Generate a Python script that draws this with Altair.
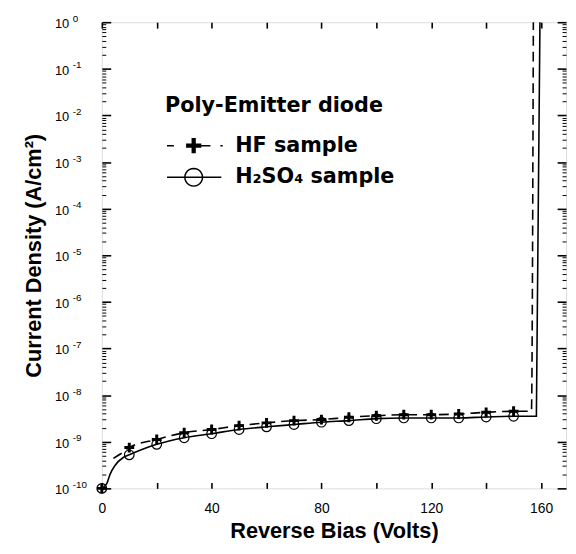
import math
import altair as alt
import pandas as pd

HF = "HF sample"
H2 = "H\u2082SO\u2084 sample"

x_marks = [0, 10, 20, 30, 40, 50, 60, 70, 80, 90, 100, 110, 120, 130, 140, 150]
hf_marks = [1.0e-10, 7.5e-10, 1.12e-9, 1.56e-9, 1.83e-9, 2.22e-9, 2.54e-9, 2.84e-9,
            2.99e-9, 3.35e-9, 3.62e-9, 3.81e-9, 3.81e-9, 3.94e-9, 4.28e-9, 4.5e-9]
h2_marks = [1.0e-10, 5.25e-10, 8.8e-10, 1.22e-9, 1.49e-9, 1.83e-9, 2.09e-9, 2.34e-9,
            2.63e-9, 2.84e-9, 3.13e-9, 3.24e-9, 3.24e-9, 3.24e-9, 3.4e-9, 3.52e-9]

hf_curve_x = [4.2, 6.6, 10, 20, 30, 40, 50, 60, 70, 80, 90, 100, 110, 120, 130, 140, 150,
              154, 156.5, 157.2]
hf_curve_y = [4.4e-10, 5.4e-10, 7.5e-10, 1.12e-9, 1.56e-9, 1.83e-9, 2.22e-9, 2.54e-9,
              2.84e-9, 2.99e-9, 3.35e-9, 3.62e-9, 3.81e-9, 3.81e-9, 3.94e-9, 4.28e-9,
              4.5e-9, 4.5e-9, 4.5e-9, 1.0]
h2_curve_x = [0, 1.8, 3.0, 4.8, 7.8, 10, 20, 30, 40, 50, 60, 70, 80, 90, 100, 110, 120,
              130, 140, 150, 158.3, 159.6]
h2_curve_y = [1.0e-10, 1.26e-10, 2.0e-10, 3.1e-10, 4.6e-10, 5.25e-10, 8.8e-10, 1.22e-9,
              1.49e-9, 1.83e-9, 2.09e-9, 2.34e-9, 2.63e-9, 2.84e-9, 3.13e-9, 3.24e-9,
              3.24e-9, 3.24e-9, 3.4e-9, 3.52e-9, 3.52e-9, 1.0]

x_labels = [0, 40, 80, 120, 160]
x_ticks = [0, 20, 40, 60, 80, 100, 120, 140, 160]
decades = [10.0 ** e for e in range(-10, 1)]
minors = [m * 10.0 ** e for e in range(-10, 0) for m in range(2, 10)]

marks = pd.DataFrame(
    [{"series": HF, "v": x, "j": y} for x, y in zip(x_marks, hf_marks)]
    + [{"series": H2, "v": x, "j": y} for x, y in zip(x_marks, h2_marks)]
)
hf_curve = pd.DataFrame({"v": hf_curve_x, "j": hf_curve_y, "i": list(range(len(hf_curve_x)))})
h2_curve = pd.DataFrame({"v": h2_curve_x, "j": h2_curve_y, "i": list(range(len(h2_curve_x)))})

W, H = 470, 472
FONT = "DejaVu Sans"
xscale = alt.Scale(domain=[0, 169.1], nice=False, zero=False)
yscale = alt.Scale(type="log", domain=[1e-10, 1], nice=False)


def tick_axis(orient, vals, size, width):
    # inward ticks: negative tick length given as an expression
    return alt.Axis(orient=orient, values=vals, labels=False, domain=False,
                    tickSize={"expr": str(-size)}, tickWidth=width, tickColor="black",
                    title=None, grid=False, zindex=1)


h2_line = alt.Chart(h2_curve).mark_line(color="black", strokeWidth=1.6, interpolate="monotone").encode(
    x=alt.X("v:Q", scale=xscale,
            axis=alt.Axis(orient="bottom", values=x_labels, ticks=False, tickSize=0, domain=False,
                          labelFontSize=14, labelPadding=13, labelFlush=False,
                          title="Reverse Bias (Volts)", titleFontSize=22, titlePadding=6,
                          grid=False)),
    y=alt.Y("j:Q", scale=yscale,
            axis=alt.Axis(orient="left", values=decades, labelExpr="'10'", labelAlign="left",
                          labelPadding=48, labelBaseline="middle", labelOffset=1.5, ticks=False,
                          tickSize=0, domain=False, labelFontSize=13, labelFlush=False,
                          labelOverlap=False, title="Current Density (A/cm\u00b2)",
                          titleFontSize=22, titlePadding=9, grid=False)),
    order="i:Q",
)

hf_line = alt.Chart(hf_curve).mark_line(color="black", strokeWidth=1.6, interpolate="monotone",
                                        strokeDash=[10, 6]).encode(
    x=alt.X("v:Q", scale=xscale, axis=None),
    y=alt.Y("j:Q", scale=yscale, axis=tick_axis("right", minors, 4, 1)),
    order="i:Q",
)

plus_path = "M-0.3,-1H0.3V-0.3H1V0.3H0.3V1H-0.3V0.3H-1V-0.3H-0.3Z"

hf_pts = alt.Chart(marks).transform_filter(alt.datum.series == HF).mark_point(
    shape=plus_path, filled=True, fill="black", size=100, opacity=1, clip=False
).encode(
    x=alt.X("v:Q", scale=xscale, axis=tick_axis("bottom", x_ticks, 6, 1.6)),
    y=alt.Y("j:Q", scale=yscale,
            axis=alt.Axis(orient="left", values=decades,
                          labelExpr="toString(round(log(datum.value)/LN10))",
                          labelAlign="left", labelPadding=30, labelBaseline="middle", labelOffset=-4,
                          labelFontSize=10, ticks=False, tickSize=0, domain=False,
                          labelFlush=False, labelOverlap=False, title=None, grid=False)),
)

h2_pts = alt.Chart(marks).transform_filter(alt.datum.series == H2).mark_point(
    shape="circle", filled=False, stroke="black", strokeWidth=1.2, size=95, opacity=1, clip=False
).encode(
    x=alt.X("v:Q", scale=xscale, axis=tick_axis("top", x_ticks, 6, 1.6)),
    y=alt.Y("j:Q", scale=yscale, axis=tick_axis("left", decades, 9, 1.6)),
)

# legend symbols (line + marker), drawn in the symbol's unit box
ring = "M" + "L".join(
    "%.3f,%.3f" % (1 + 0.64 * math.cos(2 * math.pi * k / 24), 0.64 * math.sin(2 * math.pi * k / 24))
    for k in range(25)
)
hf_leg = ("M-0.93,0L-0.43,0"
          "M0.45,-0.1L1.55,-0.1M0.45,0L1.55,0M0.45,0.1L1.55,0.1"
          "M0.9,-0.55L0.9,0.55M1,-0.55L1,0.55M1.1,-0.55L1.1,0.55"
          "M1.55,0L2.21,0M2.93,0L3.1,0")
h2_leg = "M-0.93,0L3.0,0" + ring

leg = alt.Legend(title="Poly-Emitter diode", orient="none", legendX=64, legendY=74, zindex=5,
                 direction="vertical", symbolSize=784, symbolStrokeWidth=1.5,
                 symbolStrokeColor="black", symbolFillColor="transparent", symbolOpacity=1,
                 labelOffset=41, titleFontSize=21, labelFontSize=21, titleFont=FONT,
                 labelFont=FONT, titleFontWeight="bold", labelFontWeight="bold",
                 titleColor="black", labelColor="black", titlePadding=15, rowPadding=6,
                 padding=0, labelLimit=400, titleLimit=400)

legend_layer = alt.Chart(marks).mark_point(
    size=784, opacity=0, stroke="black", strokeWidth=1.5, filled=False
).encode(
    x=alt.X("v:Q", scale=xscale, axis=None),
    y=alt.Y("j:Q", scale=yscale, axis=tick_axis("left", minors, 4, 1)),
    shape=alt.Shape("series:N", scale=alt.Scale(domain=[HF, H2], range=[hf_leg, h2_leg]), legend=leg),
)

right_major = alt.Chart(marks).mark_point(opacity=0, size=10).encode(
    x=alt.X("v:Q", scale=xscale, axis=None),
    y=alt.Y("j:Q", scale=yscale, axis=tick_axis("right", decades, 9, 1.6)),
)

chart = alt.layer(h2_line, hf_line, h2_pts, hf_pts, legend_layer, right_major).resolve_axis(
    x="independent", y="independent"
).properties(
    width=W, height=H,
    autosize=alt.AutoSizeParams(type="none"),
    padding={"left": 95, "top": 11, "right": 2, "bottom": 58},
).configure_view(
    stroke="black", strokeWidth=2.2
).configure_axis(
    labelFont=FONT, titleFont=FONT, labelFontWeight="bold", titleFontWeight="bold",
    labelColor="black", titleColor="black", grid=False
).configure(background="white")

chart.save("out.html", embed_options={"renderer": "svg", "actions": False})
